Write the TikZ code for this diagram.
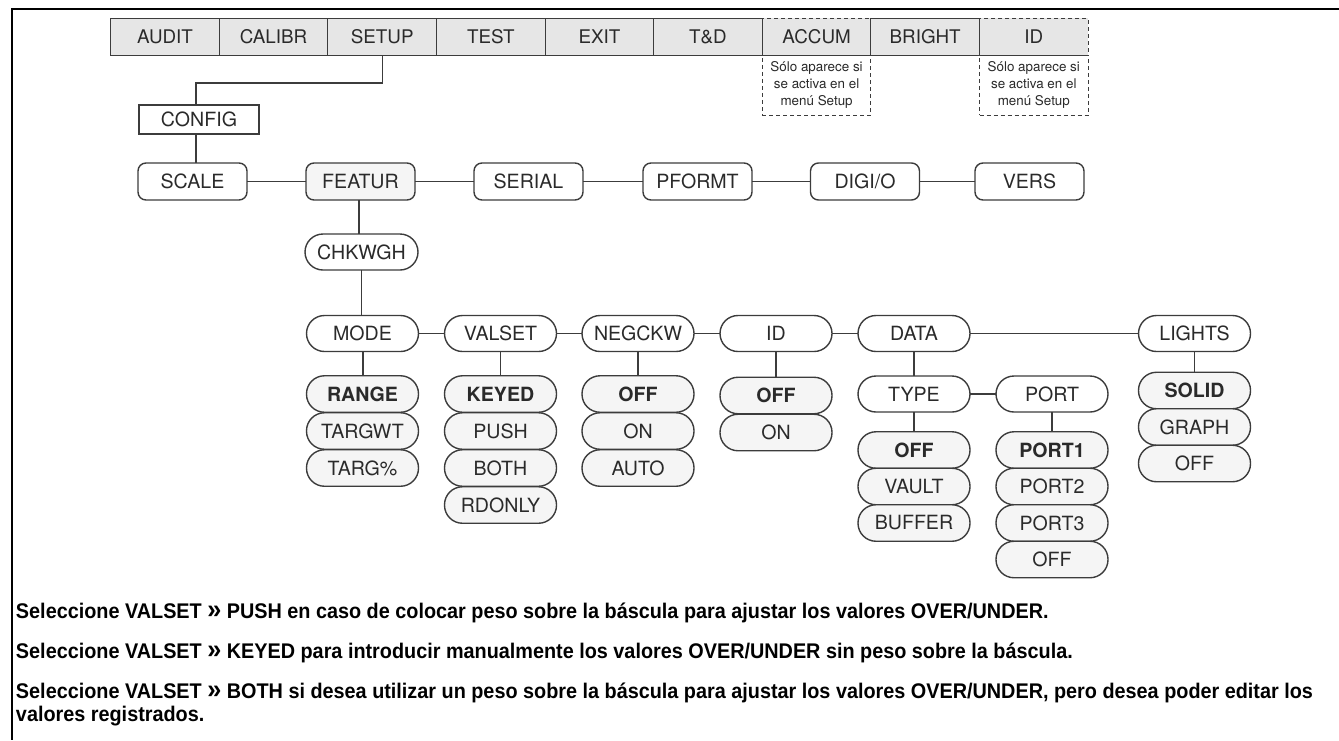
\documentclass[tikz,border=0pt]{standalone}
\usepackage{fontspec}
\setmainfont{TeX Gyre Heros}
\newfontfamily\notefont[FakeStretch=0.935]{Liberation Sans}
\newcommand{\bigguil}{{\fontsize{13.5}{12}\selectfont »}}
\definecolor{ln}{HTML}{3C3C3C}
\definecolor{txt}{HTML}{2A2A2A}
\definecolor{menufill}{HTML}{E6E6E6}
\definecolor{optfill}{HTML}{F5F5F5}
\begin{document}
\begin{tikzpicture}[x=0.5pt,y=-0.5pt,
  every node/.style={text=txt, inner sep=0pt, outer sep=0pt},
  conn/.style={draw=ln, line width=0.7pt},
  dsh/.style={dash pattern=on 2pt off 1.5pt},
  menucell/.style={draw=ln, line width=0.5pt, fill=menufill, minimum width=54.3pt, minimum height=18.35pt, font=\fontsize{9.4}{11}\selectfont},
  notebox/.style={draw=ln, line width=0.5pt, dsh, minimum width=54.3pt, minimum height=30pt, align=center, font=\fontsize{6.7}{8.7}\selectfont},
  configbox/.style={draw=ln, line width=0.7pt, minimum width=60pt, minimum height=14.5pt, font=\fontsize{9.8}{11}\selectfont},
  groupbox/.style={draw=ln, line width=0.7pt, rounded corners=4pt, minimum width=54.5pt, minimum height=18.5pt, font=\fontsize{9.8}{11}\selectfont},
  pill/.style={draw=ln, line width=0.7pt, rounded corners=9pt, fill=white, minimum width=56pt, minimum height=18pt, font=\fontsize{9.8}{11}\selectfont},
  opt/.style={pill, fill=optfill, minimum height=18.25pt},
  optb/.style={opt, font=\fontsize{9.8}{11}\selectfont\bfseries},
  txtline/.style={anchor=base west, text=black, font=\notefont\bfseries\fontsize{10.6}{12}\selectfont}
]
\useasboundingbox (0,0) rectangle (1339,740);
% frame
\coordinate (fr1) at (1339,8.5);
\coordinate (fr2) at (11.5,8.5);
\coordinate (fr3) at (11.5,740);
\draw[line width=1pt, black] (fr1) -- (fr2) -- (fr3);

% menu bar
\node[menucell, dsh] (accum) at (816.6,36.7) {ACCUM};
\node[menucell, dsh] (idm) at (1033.8,36.7) {ID};
\node[notebox] (naccum) at (816.6,85) {Sólo aparece si\\se activa en el\\menú Setup};
\node[notebox] (nid) at (1033.8,85) {Sólo aparece si\\se activa en el\\menú Setup};
\node[menucell] (audit) at (165.0,36.7) {AUDIT};
\node[menucell] (calibr) at (273.6,36.7) {CALIBR};
\node[menucell] (setup) at (382.2,36.7) {SETUP};
\node[menucell] (test) at (490.8,36.7) {TEST};
\node[menucell] (exit) at (599.4,36.7) {EXIT};
\node[menucell] (td) at (708.0,36.7) {T\&D};
\node[menucell] (bright) at (925.2,36.7) {BRIGHT};
\draw[draw=ln, line width=0.5pt] (audit.south west) -- (idm.south east);

% config
\node[configbox] (config) at (199,119.5) {CONFIG};
\draw[conn] (setup.south) -- ++(0,28) -| ([xshift=-1.5pt]config.north);

% second row
\node[groupbox] (scale) at (192.5,181.5) {SCALE};
\node[groupbox, fill=optfill] (featur) at (360.5,181.5) {FEATUR};
\node[groupbox] (serial) at (528.5,181.5) {SERIAL};
\node[groupbox] (pformt) at (697.5,181.5) {PFORMT};
\node[groupbox] (digio) at (865,181.5) {DIGI/O};
\node[groupbox] (vers) at (1029.5,181.5) {VERS};
\draw[conn] ([xshift=-1.5pt]config.south) -- ([xshift=-1.5pt]config.south |- scale.north);
\draw[conn] (scale.east) -- (featur.west);
\draw[conn] (featur.east) -- (serial.west);
\draw[conn] (serial.east) -- (pformt.west);
\draw[conn] (pformt.east) -- (digio.west);
\draw[conn] (digio.east) -- (vers.west);

% chkwgh
\node[pill, minimum width=56.5pt] (chk) at (361.5,252) {CHKWGH};
\draw[conn] ([xshift=-0.75pt]featur.south) -- ([xshift=-0.75pt]featur.south |- chk.north);

% third row
\node[pill] (mode) at (362.5,333.5) {MODE};
\node[pill] (valset) at (500.5,333.5) {VALSET};
\node[pill] (negckw) at (638,333.5) {NEGCKW};
\node[pill] (idg) at (776,333.5) {ID};
\node[pill] (data) at (914,333.5) {DATA};
\node[pill] (lights) at (1194.5,333.5) {LIGHTS};
\draw[conn] (chk.south) -- (chk.south |- mode.north);
\draw[conn] (mode.east) -- (valset.west);
\draw[conn] (valset.east) -- (negckw.west);
\draw[conn] (negckw.east) -- (idg.west);
\draw[conn] (idg.east) -- (data.west);
\draw[conn] (data.east) -- (lights.west);

% MODE options
\node[optb] (range) at (362.5,394) {RANGE};
\node[opt] (targwt) at (362.5,431) {TARGWT};
\node[opt] (targp) at (362.5,468) {TARG\%};
\draw[conn, line width=1pt] (mode.south) -- (range.north);

% VALSET options
\node[optb] (keyed) at (500.5,394) {KEYED};
\node[opt] (push) at (500.5,431) {PUSH};
\node[opt] (both) at (500.5,468) {BOTH};
\node[opt] (rdonly) at (500.5,505) {RDONLY};
\draw[conn] (valset.south) -- (keyed.north);

% NEGCKW options
\node[optb] (noff) at (638,394) {OFF};
\node[opt] (non) at (638,431) {ON};
\node[opt] (nauto) at (638,468) {AUTO};
\draw[conn] (negckw.south) -- (noff.north);

% ID options
\node[optb] (ioff) at (776,395.5) {OFF};
\node[opt] (ion) at (776,432.5) {ON};
\draw[conn] (idg.south) -- (ioff.north);

% DATA
\node[pill] (type) at (914,394) {TYPE};
\node[pill] (port) at (1052,394) {PORT};
\draw[conn] (data.south) -- (type.north);
\draw[conn] (type.east) -- (port.west);
\node[optb] (toff) at (914,450) {OFF};
\node[opt] (vault) at (914,486.5) {VAULT};
\node[opt] (buffer) at (914,523) {BUFFER};
\draw[conn] (type.south) -- (toff.north);
\node[optb] (port1) at (1052,450) {PORT1};
\node[opt] (port2) at (1052,486.5) {PORT2};
\node[opt] (port3) at (1052,523) {PORT3};
\node[opt] (poff) at (1052,559.5) {OFF};
\draw[conn] (port.south) -- (port1.north);

% LIGHTS
\node[optb] (solid) at (1194.5,390.5) {SOLID};
\node[opt] (graph) at (1194.5,427) {GRAPH};
\node[opt] (loff) at (1194.5,463.5) {OFF};
\draw[conn] (lights.south) -- (solid.north);

% notes
\node[txtline] (t1) at (16,618) {Seleccione VALSET \bigguil{} PUSH en caso de colocar peso sobre la báscula para ajustar los valores OVER/UNDER.};
\node[txtline] (t2) at (16,658) {Seleccione VALSET \bigguil{} KEYED para introducir manualmente los valores OVER/UNDER sin peso sobre la báscula.};
\node[txtline] (t3) at (16,698) {Seleccione VALSET \bigguil{} BOTH si desea utilizar un peso sobre la báscula para ajustar los valores OVER/UNDER, pero desea poder editar los};
\node[txtline] (t4) at (16,721) {valores registrados.};
\end{tikzpicture}
\end{document}
